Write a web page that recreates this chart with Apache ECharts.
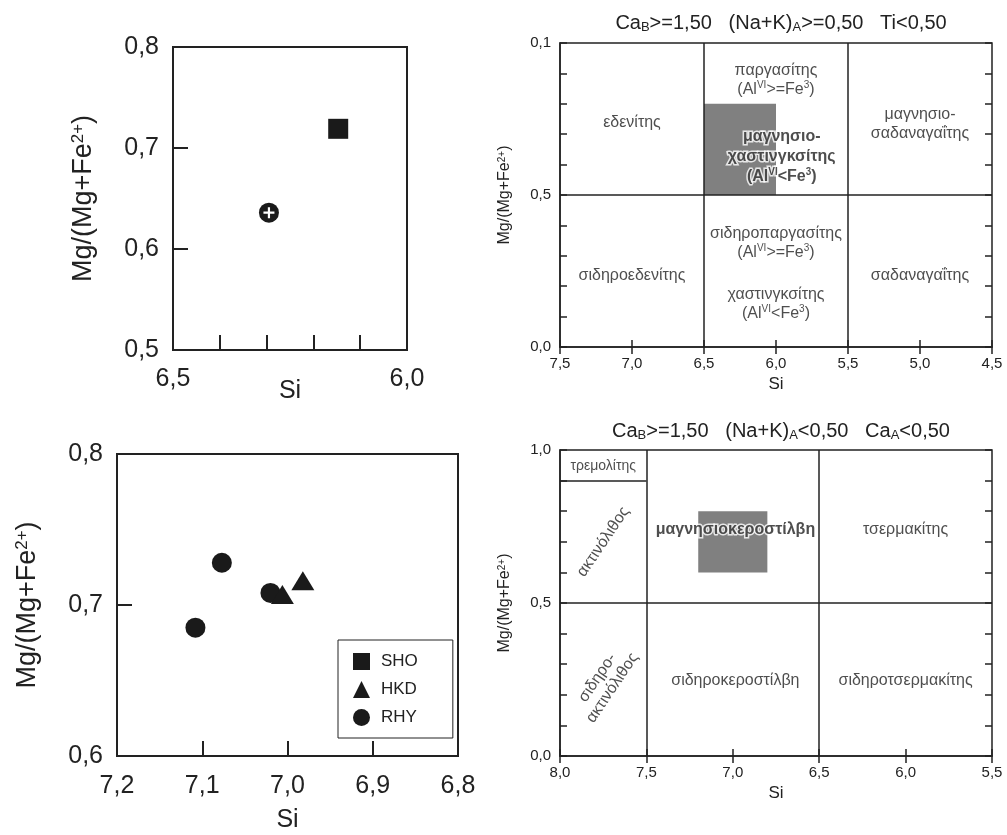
<!DOCTYPE html>
<html>
<head>
<meta charset="utf-8">
<script src="https://cdn.jsdelivr.net/npm/echarts@6/dist/echarts.min.js"></script>
<style>
html,body{margin:0;padding:0;background:#fff}
#main{width:1007px;height:835px}
</style>
</head>
<body>
<div id="main"></div>
<script>
// --- data ---
// upper-left detail plot
var shoTop = [[6.147, 0.719]];
var crossTop = [[6.295, 0.636]];
// lower-left detail plot
var legendNames = ['SHO', 'HKD', 'RHY'];
var hkdBottom = [[7.006, 0.707], [6.982, 0.716]];
var rhyBottom = [[7.077, 0.728], [7.108, 0.685], [7.020, 0.708]];

// upper-right diagram  (Na+K)A >= 0.5
var upperLines = [[6.5, 0, 6.5, 1], [5.5, 0, 5.5, 1], [7.5, 0.5, 4.5, 0.5]];
var upperBox = [6.5, 0.5, 6.0, 0.8];
var upperNames = [
    [7.0, 0.737, 'εδενίτης'],
    [6.0, 0.878, 'παργασίτης\n(Al{sup|VI}>=Fe{sup|3})'],
    [5.0, 0.734, 'μαγνησιο-\nσαδαναγαΐτης'],
    [6.0, 0.342, 'σιδηροπαργασίτης\n(Al{sup|VI}>=Fe{sup|3})'],
    [7.0, 0.234, 'σιδηροεδενίτης'],
    [6.0, 0.140, 'χαστινγκσίτης\n(Al{sup|VI}<Fe{sup|3})'],
    [5.0, 0.234, 'σαδαναγαΐτης']
];
var upperBold = [[5.96, 0.625, 'μαγνησιο-\nχαστινγκσίτης\n(Al{supb|VI}<Fe{supb|3})']];

// lower-right diagram  (Na+K)A < 0.5
var lowerLines = [[7.5, 0, 7.5, 1], [6.5, 0, 6.5, 1], [8.0, 0.5, 5.5, 0.5], [8.0, 0.9, 7.5, 0.9]];
var lowerBox = [7.2, 0.6, 6.8, 0.8];
var lowerNames = [
    [6.985, 0.245, 'σιδηροκεροστίλβη'],
    [6.0, 0.739, 'τσερμακίτης'],
    [6.0, 0.245, 'σιδηροτσερμακίτης']
];
var lowerSmall = [[7.75, 0.946, 'τρεμολίτης']];
var lowerTilted = [[7.75, 0.70, 'ακτινόλιθος'], [7.74, 0.239, 'σιδηρο-\nακτινόλιθος']];
var lowerBold = [[6.985, 0.739, 'μαγνησιοκεροστίλβη']];

var FONT = '"Liberation Sans", Arial, sans-serif';
var INK = '#222';
var MARK = '#1a1a1a';

function fmt(v) { return v.toFixed(1).replace('.', ','); }
function near(a, b) { return Math.abs(a - b) < 1e-6; }

var myChart = echarts.init(document.getElementById('main'));

function bigX(grid, min, max, keep, gap, margin) {
    return {
        gridIndex: grid, type: 'value', inverse: true, min: min, max: max, interval: 0.1,
        name: 'Si', nameLocation: 'middle', nameGap: gap, nameMoveOverlap: false,
        nameTextStyle: { fontSize: 25, color: INK, fontFamily: FONT },
        axisLine: { lineStyle: { color: INK, width: 2 } },
        axisTick: { inside: true, length: 15, lineStyle: { color: INK, width: 2 } },
        axisLabel: {
            fontSize: 25, color: INK, fontFamily: FONT, margin: margin,
            formatter: function (v) { return keep(v) ? fmt(v) : ''; }
        },
        splitLine: { show: false }
    };
}
function bigY(grid, min, max) {
    return {
        gridIndex: grid, type: 'value', min: min, max: max, interval: 0.1,
        name: 'Mg/(Mg+Fe{sup|2+})', nameLocation: 'middle', nameGap: 76, nameRotate: 90,
        nameTextStyle: { fontSize: 27, color: INK, fontFamily: FONT,
            rich: { sup: { fontSize: 17, verticalAlign: 'top', lineHeight: 14, fontFamily: FONT, color: INK } } },
        axisLine: { lineStyle: { color: INK, width: 2 } },
        axisTick: { inside: true, length: 15, lineStyle: { color: INK, width: 2 } },
        axisLabel: { fontSize: 25, color: INK, fontFamily: FONT, margin: 14, formatter: fmt },
        splitLine: { show: false }
    };
}
function smallX(grid, min, max, top) {
    return {
        gridIndex: grid, type: 'value', inverse: true, min: min, max: max, interval: 0.5,
        position: top ? 'top' : 'bottom',
        name: top ? '' : 'Si', nameLocation: 'middle', nameGap: 29, nameMoveOverlap: false,
        nameTextStyle: { fontSize: 17, color: INK, fontFamily: FONT },
        axisLine: { show: !top, lineStyle: { color: INK, width: 1.5 } },
        axisTick: { inside: true, length: 7, lineStyle: { color: INK, width: 1.5 } },
        axisLabel: { show: !top, fontSize: 15, color: INK, fontFamily: FONT, margin: 9, formatter: fmt },
        splitLine: { show: false }
    };
}
function smallY(grid, right, topLabel) {
    return {
        gridIndex: grid, type: 'value', min: 0, max: 1, interval: 0.1,
        position: right ? 'right' : 'left',
        name: right ? '' : 'Mg/(Mg+Fe{sup|2+})', nameLocation: 'middle', nameGap: 47, nameRotate: 90,
        nameTextStyle: { fontSize: 16, color: INK, fontFamily: FONT,
            rich: { sup: { fontSize: 10, verticalAlign: 'top', lineHeight: 9, fontFamily: FONT, color: INK } } },
        axisLine: { show: !right, lineStyle: { color: INK, width: 1.5 } },
        axisTick: { inside: true, length: 7, lineStyle: { color: INK, width: 1.5 } },
        axisLabel: {
            show: !right, fontSize: 15, color: INK, fontFamily: FONT, margin: 9,
            formatter: function (v) {
                if (near(v, 0)) return '0,0';
                if (near(v, 0.5)) return '0,5';
                if (near(v, 1)) return topLabel;
                return '';
            }
        },
        splitLine: { show: false }
    };
}

var supRich = {
    sup: { fontSize: 10, verticalAlign: 'top', lineHeight: 8, fontFamily: FONT, color: INK },
    supb: { fontSize: 10, verticalAlign: 'top', lineHeight: 8, fontFamily: FONT, color: INK,
        fontWeight: 'bold', textBorderColor: '#fff', textBorderWidth: 3 }
};

function textSeries(xi, yi, rows, extra) {
    var label = Object.assign({
        show: true, position: 'inside', fontSize: 16, lineHeight: 19, color: INK, fontFamily: FONT,
        formatter: function (p) { return p.name; }, rich: supRich
    }, extra || {});
    return {
        type: 'scatter', xAxisIndex: xi, yAxisIndex: yi, z: 5, silent: true,
        symbolSize: 1, itemStyle: { color: 'rgba(0,0,0,0)' },
        label: label, labelLayout: { hideOverlap: false },
        data: rows.map(function (r) { return { name: r[2], value: [r[0], r[1]] }; })
    };
}
function frameSeries(xi, yi, lines, box) {
    return {
        type: 'scatter', xAxisIndex: xi, yAxisIndex: yi, z: 2, silent: true, data: [],
        markArea: { silent: true, itemStyle: { color: '#808080', opacity: 1 },
            data: [[{ coord: [box[0], box[1]] }, { coord: [box[2], box[3]] }]] },
        markLine: { silent: true, symbol: 'none', label: { show: false }, animation: false,
            lineStyle: { color: INK, width: 1.5, type: 'solid', opacity: 1 },
            data: lines.map(function (s) { return [{ coord: [s[0], s[1]] }, { coord: [s[2], s[3]] }]; }) }
    };
}
function titleText(parts) {
    return {
        text: parts, left: 776, textAlign: 'center',
        textStyle: { fontSize: 20, fontWeight: 'normal', color: INK, fontFamily: FONT,
            rich: { n: { fontSize: 20, color: INK, fontFamily: FONT, lineHeight: 22 },
                    sub: { fontSize: 13, color: INK, fontFamily: FONT, verticalAlign: 'bottom', lineHeight: 11 } } }
    };
}
function dots(name, xi, symbol, size, data, z) {
    return {
        name: name, type: 'scatter', xAxisIndex: xi, yAxisIndex: xi, symbol: symbol, symbolSize: size,
        z: z || 2, itemStyle: { color: MARK, opacity: 1 }, data: data
    };
}

var frameBig = { show: true, borderColor: INK, borderWidth: 2, backgroundColor: 'transparent', outerBoundsMode: 'none' };
var frameSmall = { show: true, borderColor: INK, borderWidth: 1.5, backgroundColor: 'transparent', outerBoundsMode: 'none' };

option = {
    animation: false,
    backgroundColor: '#fff',
    title: [
        Object.assign(titleText('{n|Ca}{sub|B}{n|>=1,50   (Na+K)}{sub|A}{n|>=0,50   Ti<0,50}'), { top: 7 }),
        Object.assign(titleText('{n|Ca}{sub|B}{n|>=1,50   (Na+K)}{sub|A}{n|<0,50   Ca}{sub|A}{n|<0,50}'), { top: 415 })
    ],
    legend: {
        data: legendNames, orient: 'vertical', left: 338, top: 640,
        padding: [13, 35, 12, 15], itemGap: 11, itemWidth: 17, itemHeight: 17,
        borderColor: INK, borderWidth: 1, backgroundColor: '#fff',
        textStyle: { fontSize: 17, color: INK, fontFamily: FONT, padding: [0, 0, 0, 6] },
        selectedMode: false
    },
    grid: [
        Object.assign({ left: 173, top: 47, width: 234, height: 303 }, frameBig),
        Object.assign({ left: 117, top: 454, width: 341, height: 302 }, frameBig),
        Object.assign({ left: 560, top: 43, width: 432, height: 304 }, frameSmall),
        Object.assign({ left: 560, top: 450, width: 432, height: 306 }, frameSmall)
    ],
    xAxis: [
        bigX(0, 6.0, 6.5, function (v) { return near(v, 6.0) || near(v, 6.5); }, 29, 17),
        bigX(1, 6.8, 7.2, function () { return true; }, 52, 18),
        smallX(2, 4.5, 7.5, false),
        smallX(2, 4.5, 7.5, true),
        smallX(3, 5.5, 8.0, false),
        smallX(3, 5.5, 8.0, true)
    ],
    yAxis: [
        bigY(0, 0.5, 0.8),
        bigY(1, 0.6, 0.8),
        smallY(2, false, '0,1'),
        smallY(2, true, ''),
        smallY(3, false, '1,0'),
        smallY(3, true, '')
    ],
    series: [
        dots('SHO', 0, 'rect', 20, shoTop),
        dots('cross', 0, 'circle', 20, crossTop),
        {
            name: 'crossMark', type: 'scatter', xAxisIndex: 0, yAxisIndex: 0, z: 3,
            symbol: 'path://M4,0H6V4H10V6H6V10H4V6H0V4H4Z', symbolSize: 11,
            itemStyle: { color: '#fff', opacity: 1 }, data: crossTop
        },
        dots('SHO', 1, 'rect', 20, []),
        dots('RHY', 1, 'circle', 20, rhyBottom),
        dots('HKD', 1, 'triangle', [23, 19], hkdBottom, 3),

        frameSeries(2, 2, upperLines, upperBox),
        textSeries(2, 2, upperNames),
        textSeries(2, 2, upperBold, { fontWeight: 'bold', textBorderColor: '#fff', textBorderWidth: 3, lineHeight: 20 }),

        frameSeries(4, 4, lowerLines, lowerBox),
        textSeries(4, 4, lowerNames),
        textSeries(4, 4, lowerSmall, { fontSize: 14 }),
        textSeries(4, 4, lowerTilted, { rotate: 56, lineHeight: 18 }),
        textSeries(4, 4, lowerBold, { fontWeight: 'bold', textBorderColor: '#fff', textBorderWidth: 3 })
    ]
};
myChart.setOption(option);

window.onresize = function () {
    myChart.resize();
};
</script>
</body>
</html>
